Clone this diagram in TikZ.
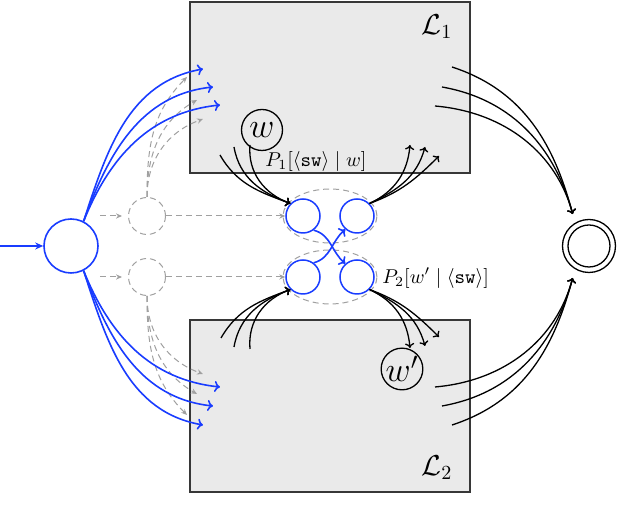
\documentclass[tikz,border=0pt]{standalone}
\usetikzlibrary{arrows.meta,shapes.geometric}
\definecolor{myblue}{RGB}{25,60,255}
\definecolor{mygray}{RGB}{160,160,160}
\definecolor{boxfill}{RGB}{234,234,234}
\definecolor{boxline}{RGB}{55,55,55}
\begin{document}
\begin{tikzpicture}[x=0.5pt,y=0.5pt,
  box/.style={draw=boxline, fill=boxfill, line width=0.8pt, inner sep=0},
  bstate/.style={circle, draw=myblue, line width=0.75pt, inner sep=0, minimum size=17pt},
  gstate/.style={circle, draw=mygray, line width=0.5pt, dash pattern=on 3pt off 2pt, inner sep=0, minimum size=18.5pt},
  gedge/.style={draw=mygray, line width=0.5pt, dash pattern=on 3pt off 2pt, -{Stealth[length=3pt,width=2.6pt]}},
  bedge/.style={draw=myblue, line width=0.8pt, -{To[length=2.8pt,width=5.5pt]}},
  kedge/.style={draw=black, line width=0.65pt, -{To[length=2.4pt,width=4.6pt]}},
  wstate/.style={circle, draw=black, line width=0.65pt, inner sep=0, minimum size=20.5pt},
  ellip/.style={ellipse, draw=mygray, line width=0.5pt, dash pattern=on 3pt off 2pt, inner sep=0, minimum width=47pt, minimum height=27pt}
]
\useasboundingbox (0,0) rectangle (618,518);
% boxes
\node[box, minimum width=140pt, minimum height=85.5pt] (L1) at (330,430.5) {};
\node[box, minimum width=140pt, minimum height=86pt] (L2) at (330,112) {};
\node (l1) at (437,491) {\Large $\mathcal{L}_1$};
\node (l2) at (437,50) {\Large $\mathcal{L}_2$};
% ellipses and middle states
\node[ellip] (e1) at (330,302) {};
\node[ellip] (e2) at (330,241) {};
\node[bstate] (tl) at (303,302) {};
\node[bstate] (tr) at (357,302) {};
\node[bstate] (bl) at (303,241) {};
\node[bstate] (br) at (357,241) {};
% start, ghosts, final
\node[circle, draw=myblue, line width=0.8pt, inner sep=0, minimum size=27pt] (start) at (71,272) {};
\node[gstate] (gc1) at (147,302) {};
\node[gstate] (gc2) at (147,241) {};
\node[circle, draw=black, line width=0.65pt, inner sep=0, minimum size=26.5pt] (final) at (589,272) {};
\node[circle, draw=black, line width=0.65pt, inner sep=0, minimum size=21pt] (finalin) at (589,272) {};
% w nodes
\node[wstate] (w) at (262,388) {\LARGE $w$};
\node[wstate] (wp) at (402,149) {\LARGE $w'$};
% labels
\node (p1) at (316,356) {$P_1[\langle\texttt{sw}\rangle \mid w]$};
\node[anchor=west, inner sep=0] (p2) at (382,240) {$P_2[w' \mid \langle\texttt{sw}\rangle]$};
% coordinates
\coordinate (in) at (0,272);
\coordinate (s1) at (100,302);
\coordinate (s2) at (100,241);
\coordinate (g1) at (187,441);
\coordinate (g2) at (197,418);
\coordinate (g3) at (203,399);
\coordinate (g4) at (187,103);
\coordinate (g5) at (197,124);
\coordinate (g6) at (203,144);
\coordinate (b1) at (203,449);
\coordinate (b2) at (213,431);
\coordinate (b3) at (220,413);
\coordinate (b4) at (203,93);
\coordinate (b5) at (213,112);
\coordinate (b6) at (220,131);
\coordinate (k1) at (220,363);
\coordinate (k2) at (234,371);
\coordinate (k3) at (250,373);
\coordinate (k4) at (410,373);
\coordinate (k5) at (425,371);
\coordinate (k6) at (439,362);
\coordinate (k7) at (221,180);
\coordinate (k8) at (234,171);
\coordinate (k9) at (250,169);
\coordinate (k10) at (410,170);
\coordinate (k11) at (425,172);
\coordinate (k12) at (439,181);
\coordinate (f1) at (452,451);
\coordinate (f2) at (442,431);
\coordinate (f3) at (435,412);
\coordinate (f4) at (435,131);
\coordinate (f5) at (442,112);
\coordinate (f6) at (452,93);
% incoming
\draw[myblue, line width=0.8pt, -{Stealth[length=4pt,width=3.5pt]}] (in) -- (start);
% ghost arrows
\draw[gedge, shorten >=3pt] (s1) -- (gc1);
\draw[gedge, shorten >=3pt] (s2) -- (gc2);
\draw[gedge] (gc1) -- (tl);
\draw[gedge] (gc2) -- (bl);
\draw[gedge] (gc1.north) to[out=90,in=225] (g1);
\draw[gedge] (gc1.north) to[out=90,in=210] (g2);
\draw[gedge] (gc1.north) to[out=90,in=200] (g3);
\draw[gedge] (gc2.south) to[out=-90,in=135] (g4);
\draw[gedge] (gc2.south) to[out=-90,in=150] (g5);
\draw[gedge] (gc2.south) to[out=-90,in=160] (g6);
% blue arrows from start
\draw[bedge] (start.63) to[out=72,in=190] (b1);
\draw[bedge] (start.63) to[out=70,in=186] (b2);
\draw[bedge] (start.63) to[out=68,in=186] (b3);
\draw[bedge] (start.-63) to[out=-72,in=170] (b4);
\draw[bedge] (start.-63) to[out=-70,in=174] (b5);
\draw[bedge] (start.-63) to[out=-68,in=174] (b6);
% blue crossing
\draw[bedge] (tl.-53) to[out=-15,in=140] (br.131);
\draw[bedge] (bl.53) to[out=15,in=-140] (tr.-131);
% black arrows
\draw[kedge] (k1) to[out=-60,in=160] (tl.135);
\draw[kedge] (k2) to[out=-80,in=160] (tl.135);
\draw[kedge] (k3) to[out=-95,in=160] (tl.135);
\draw[kedge] (tr.45) to[out=25,in=-95] (k4);
\draw[kedge] (tr.45) to[out=25,in=-105] (k5);
\draw[kedge] (tr.45) to[out=20,in=-135] (k6);
\draw[kedge] (k7) to[out=60,in=200] (bl.225);
\draw[kedge] (k8) to[out=80,in=200] (bl.225);
\draw[kedge] (k9) to[out=95,in=200] (bl.225);
\draw[kedge] (br.-45) to[out=-25,in=95] (k10);
\draw[kedge] (br.-45) to[out=-25,in=105] (k11);
\draw[kedge] (br.-45) to[out=-20,in=135] (k12);
% to final
\draw[kedge, shorten >=4.5pt] (f1) to[out=-18,in=105] (final.121);
\draw[kedge, shorten >=4.5pt] (f2) to[out=-10,in=105] (final.121);
\draw[kedge, shorten >=4.5pt] (f3) to[out=-5,in=105] (final.121);
\draw[kedge, shorten >=4.5pt] (f4) to[out=5,in=-105] (final.-121);
\draw[kedge, shorten >=4.5pt] (f5) to[out=10,in=-105] (final.-121);
\draw[kedge, shorten >=4.5pt] (f6) to[out=18,in=-105] (final.-121);
\end{tikzpicture}
\end{document}
